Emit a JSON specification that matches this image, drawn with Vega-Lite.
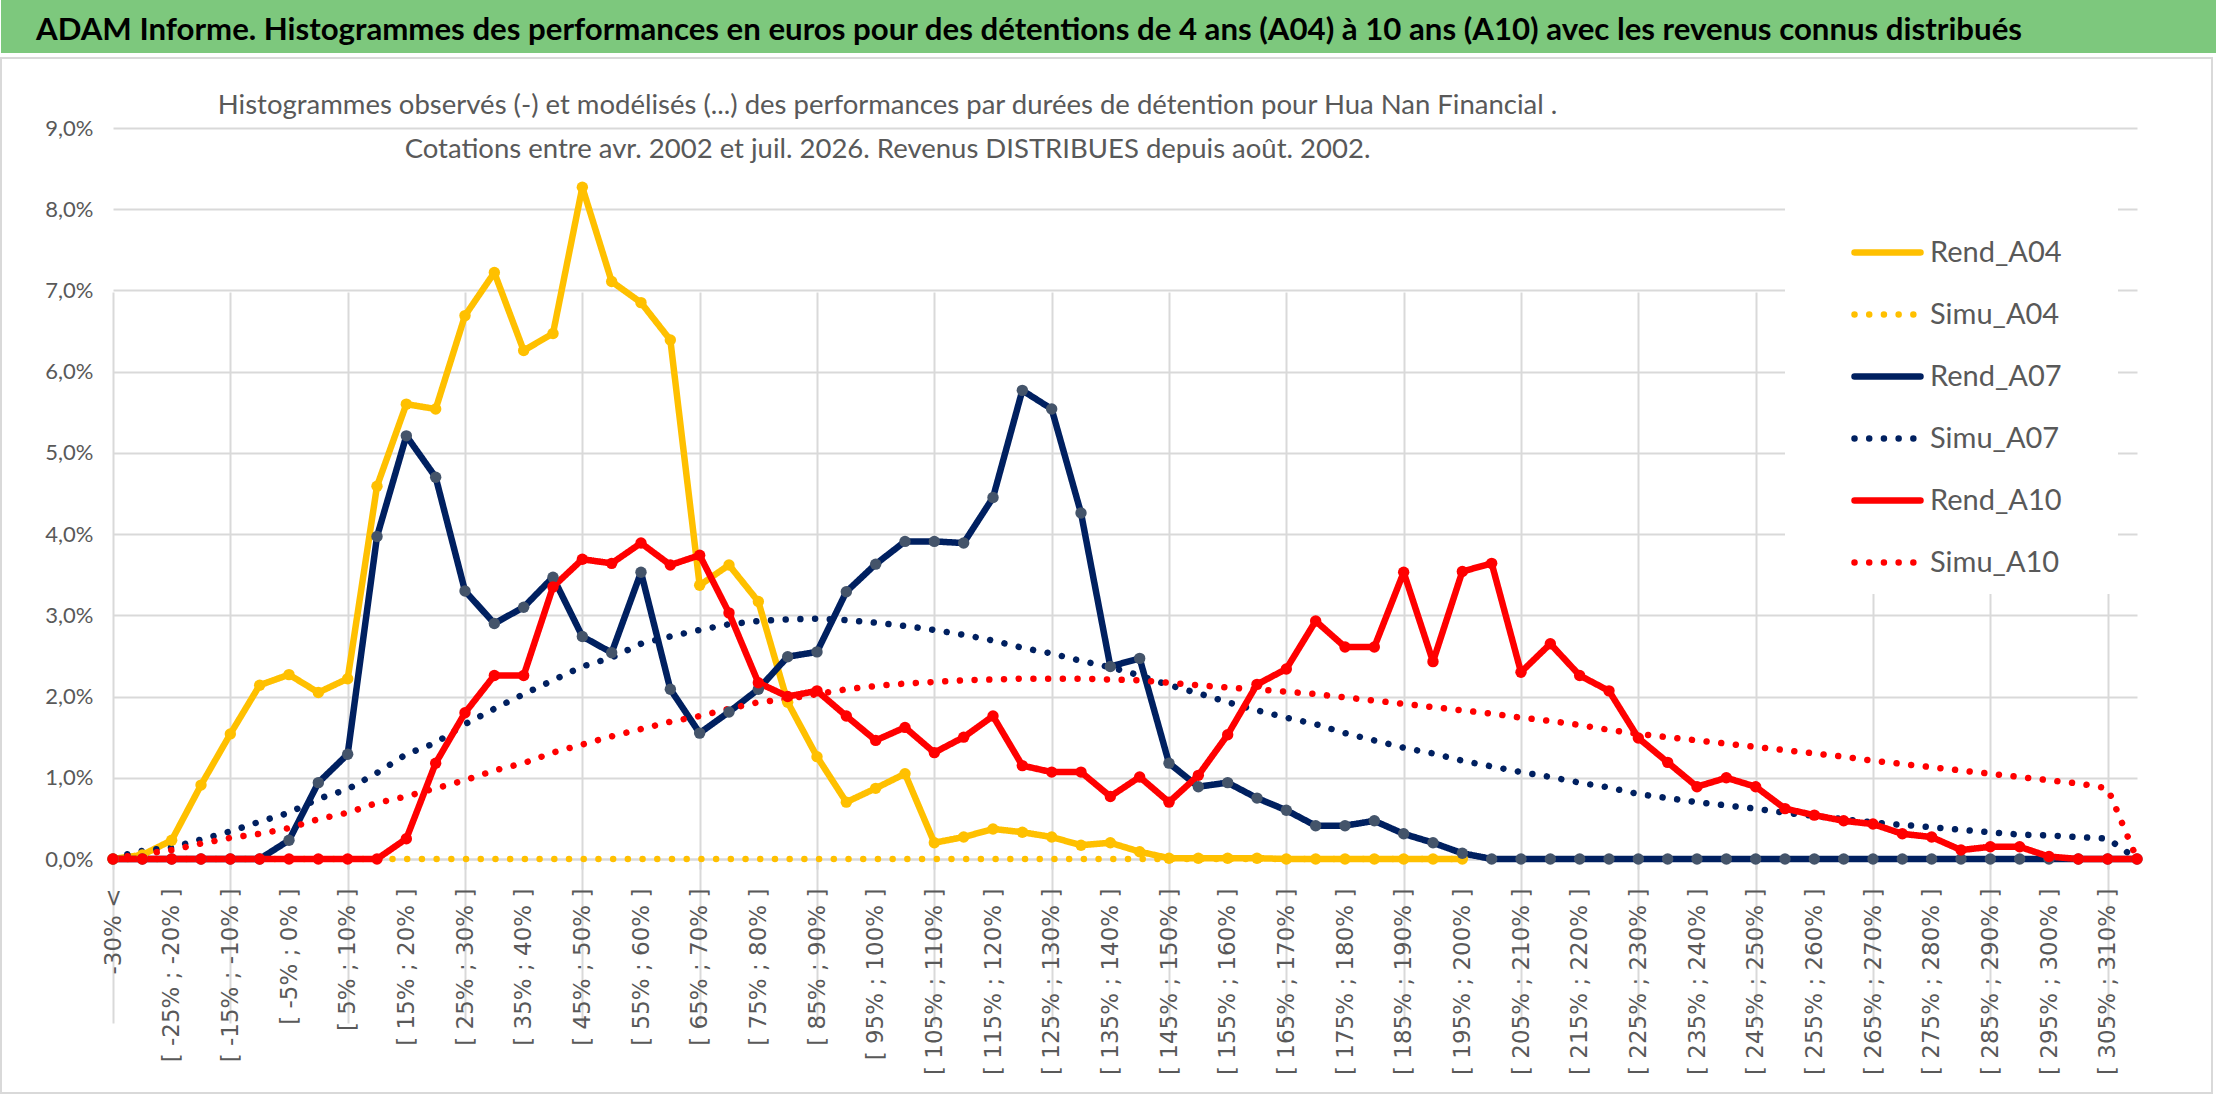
{
  "$schema": "https://vega.github.io/schema/vega-lite/v6.json",
  "padding": 0,
  "spacing": 4,
  "background": "white",
  "config": {"font": "Lato"},
  "vconcat": [
    {
      "width": 2216,
      "height": 53,
      "view": {"fill": "#7DC87D", "stroke": null},
      "data": {"values": []},
      "mark": "rect",
      "title": {
        "text": "ADAM Informe. Histogrammes des performances en euros pour des détentions de 4 ans (A04) à 10 ans (A10) avec les revenus connus distribués",
        "anchor": "start",
        "frame": "group",
        "dx": 35,
        "offset": -46,
        "font": "Lato",
        "fontWeight": "bold",
        "fontSize": 31.2,
        "color": "#000000"
      }
    },
    {
      "width": 2211,
      "height": 1035,
      "view": {"stroke": "#D9D9D9", "strokeWidth": 2},
      "title": {
        "text": [
          "Histogrammes observés (-) et modélisés (...) des performances par durées de détention pour Hua Nan Financial .",
          "Cotations entre avr. 2002 et juil. 2026. Revenus DISTRIBUES depuis août. 2002."
        ],
        "anchor": "middle",
        "frame": "group",
        "dx": -219,
        "offset": -105,
        "font": "Lato",
        "fontSize": 27.5,
        "fontWeight": "normal",
        "lineHeight": 44,
        "color": "#595959"
      },
      "data": {
        "values": [
          {"classe": "-30% <", "Rend_A04": 0, "Simu_A04": 0, "Rend_A07": 0, "Simu_A07": 0.02, "Rend_A10": 0, "Simu_A10": 0.01},
          {"classe": "[ -30% ; -25% ]", "Rend_A04": 0.05, "Simu_A04": 0, "Rend_A07": 0, "Simu_A07": 0.10, "Rend_A10": 0, "Simu_A10": 0.06},
          {"classe": "[ -25% ; -20% ]", "Rend_A04": 0.23, "Simu_A04": 0, "Rend_A07": 0, "Simu_A07": 0.14, "Rend_A10": 0, "Simu_A10": 0.11},
          {"classe": "[ -20% ; -15% ]", "Rend_A04": 0.91, "Simu_A04": 0, "Rend_A07": 0, "Simu_A07": 0.24, "Rend_A10": 0, "Simu_A10": 0.19},
          {"classe": "[ -15% ; -10% ]", "Rend_A04": 1.54, "Simu_A04": 0, "Rend_A07": 0, "Simu_A07": 0.34, "Rend_A10": 0, "Simu_A10": 0.26},
          {"classe": "[ -10% ; -5% ]", "Rend_A04": 2.14, "Simu_A04": 0, "Rend_A07": 0, "Simu_A07": 0.46, "Rend_A10": 0, "Simu_A10": 0.31},
          {"classe": "[ -5% ; 0% ]", "Rend_A04": 2.27, "Simu_A04": 0, "Rend_A07": 0.23, "Simu_A07": 0.57, "Rend_A10": 0, "Simu_A10": 0.38},
          {"classe": "[ 0% ; 5% ]", "Rend_A04": 2.05, "Simu_A04": 0, "Rend_A07": 0.94, "Simu_A07": 0.74, "Rend_A10": 0, "Simu_A10": 0.49},
          {"classe": "[ 5% ; 10% ]", "Rend_A04": 2.22, "Simu_A04": 0, "Rend_A07": 1.29, "Simu_A07": 0.86, "Rend_A10": 0, "Simu_A10": 0.57},
          {"classe": "[ 10% ; 15% ]", "Rend_A04": 4.59, "Simu_A04": 0, "Rend_A07": 3.97, "Simu_A07": 1.06, "Rend_A10": 0, "Simu_A10": 0.69},
          {"classe": "[ 15% ; 20% ]", "Rend_A04": 5.60, "Simu_A04": 0, "Rend_A07": 5.21, "Simu_A07": 1.29, "Rend_A10": 0.25, "Simu_A10": 0.77},
          {"classe": "[ 20% ; 25% ]", "Rend_A04": 5.54, "Simu_A04": 0, "Rend_A07": 4.70, "Simu_A07": 1.43, "Rend_A10": 1.18, "Simu_A10": 0.87},
          {"classe": "[ 25% ; 30% ]", "Rend_A04": 6.69, "Simu_A04": 0, "Rend_A07": 3.30, "Simu_A07": 1.66, "Rend_A10": 1.80, "Simu_A10": 0.97},
          {"classe": "[ 30% ; 35% ]", "Rend_A04": 7.22, "Simu_A04": 0, "Rend_A07": 2.90, "Simu_A07": 1.85, "Rend_A10": 2.26, "Simu_A10": 1.09},
          {"classe": "[ 35% ; 40% ]", "Rend_A04": 6.26, "Simu_A04": 0, "Rend_A07": 3.10, "Simu_A07": 2.03, "Rend_A10": 2.26, "Simu_A10": 1.18},
          {"classe": "[ 40% ; 45% ]", "Rend_A04": 6.47, "Simu_A04": 0, "Rend_A07": 3.47, "Simu_A07": 2.20, "Rend_A10": 3.35, "Simu_A10": 1.31},
          {"classe": "[ 45% ; 50% ]", "Rend_A04": 8.27, "Simu_A04": 0, "Rend_A07": 2.74, "Simu_A07": 2.37, "Rend_A10": 3.69, "Simu_A10": 1.41},
          {"classe": "[ 50% ; 55% ]", "Rend_A04": 7.11, "Simu_A04": 0, "Rend_A07": 2.54, "Simu_A07": 2.48, "Rend_A10": 3.64, "Simu_A10": 1.51},
          {"classe": "[ 55% ; 60% ]", "Rend_A04": 6.85, "Simu_A04": 0, "Rend_A07": 3.53, "Simu_A07": 2.65, "Rend_A10": 3.89, "Simu_A10": 1.60},
          {"classe": "[ 60% ; 65% ]", "Rend_A04": 6.39, "Simu_A04": 0, "Rend_A07": 2.09, "Simu_A07": 2.74, "Rend_A10": 3.62, "Simu_A10": 1.69},
          {"classe": "[ 65% ; 70% ]", "Rend_A04": 3.37, "Simu_A04": 0, "Rend_A07": 1.55, "Simu_A07": 2.82, "Rend_A10": 3.74, "Simu_A10": 1.76},
          {"classe": "[ 70% ; 75% ]", "Rend_A04": 3.62, "Simu_A04": 0, "Rend_A07": 1.81, "Simu_A07": 2.89, "Rend_A10": 3.03, "Simu_A10": 1.85},
          {"classe": "[ 75% ; 80% ]", "Rend_A04": 3.17, "Simu_A04": 0, "Rend_A07": 2.09, "Simu_A07": 2.93, "Rend_A10": 2.17, "Simu_A10": 1.93},
          {"classe": "[ 80% ; 85% ]", "Rend_A04": 1.93, "Simu_A04": 0, "Rend_A07": 2.49, "Simu_A07": 2.95, "Rend_A10": 2.00, "Simu_A10": 1.97},
          {"classe": "[ 85% ; 90% ]", "Rend_A04": 1.26, "Simu_A04": 0, "Rend_A07": 2.55, "Simu_A07": 2.96, "Rend_A10": 2.07, "Simu_A10": 2.03},
          {"classe": "[ 90% ; 95% ]", "Rend_A04": 0.70, "Simu_A04": 0, "Rend_A07": 3.29, "Simu_A07": 2.94, "Rend_A10": 1.76, "Simu_A10": 2.09},
          {"classe": "[ 95% ; 100% ]", "Rend_A04": 0.87, "Simu_A04": 0, "Rend_A07": 3.63, "Simu_A07": 2.91, "Rend_A10": 1.46, "Simu_A10": 2.13},
          {"classe": "[ 100% ; 105% ]", "Rend_A04": 1.05, "Simu_A04": 0, "Rend_A07": 3.91, "Simu_A07": 2.87, "Rend_A10": 1.62, "Simu_A10": 2.16},
          {"classe": "[ 105% ; 110% ]", "Rend_A04": 0.20, "Simu_A04": 0, "Rend_A07": 3.91, "Simu_A07": 2.82, "Rend_A10": 1.31, "Simu_A10": 2.18},
          {"classe": "[ 110% ; 115% ]", "Rend_A04": 0.27, "Simu_A04": 0, "Rend_A07": 3.89, "Simu_A07": 2.76, "Rend_A10": 1.50, "Simu_A10": 2.20},
          {"classe": "[ 115% ; 120% ]", "Rend_A04": 0.37, "Simu_A04": 0, "Rend_A07": 4.45, "Simu_A07": 2.69, "Rend_A10": 1.76, "Simu_A10": 2.21},
          {"classe": "[ 120% ; 125% ]", "Rend_A04": 0.33, "Simu_A04": 0, "Rend_A07": 5.77, "Simu_A07": 2.60, "Rend_A10": 1.15, "Simu_A10": 2.22},
          {"classe": "[ 125% ; 130% ]", "Rend_A04": 0.27, "Simu_A04": 0, "Rend_A07": 5.54, "Simu_A07": 2.53, "Rend_A10": 1.07, "Simu_A10": 2.22},
          {"classe": "[ 130% ; 135% ]", "Rend_A04": 0.17, "Simu_A04": 0, "Rend_A07": 4.26, "Simu_A07": 2.44, "Rend_A10": 1.07, "Simu_A10": 2.22},
          {"classe": "[ 135% ; 140% ]", "Rend_A04": 0.20, "Simu_A04": 0, "Rend_A07": 2.37, "Simu_A07": 2.36, "Rend_A10": 0.77, "Simu_A10": 2.21},
          {"classe": "[ 140% ; 145% ]", "Rend_A04": 0.09, "Simu_A04": 0, "Rend_A07": 2.47, "Simu_A07": 2.26, "Rend_A10": 1.01, "Simu_A10": 2.20},
          {"classe": "[ 145% ; 150% ]", "Rend_A04": 0.01, "Simu_A04": 0, "Rend_A07": 1.18, "Simu_A07": 2.14, "Rend_A10": 0.70, "Simu_A10": 2.17},
          {"classe": "[ 150% ; 155% ]", "Rend_A04": 0.01, "Simu_A04": 0, "Rend_A07": 0.89, "Simu_A07": 2.04, "Rend_A10": 1.03, "Simu_A10": 2.14},
          {"classe": "[ 155% ; 160% ]", "Rend_A04": 0.01, "Simu_A04": 0, "Rend_A07": 0.94, "Simu_A07": 1.93, "Rend_A10": 1.53, "Simu_A10": 2.11},
          {"classe": "[ 160% ; 165% ]", "Rend_A04": 0.01, "Simu_A04": 0, "Rend_A07": 0.75, "Simu_A07": 1.83, "Rend_A10": 2.15, "Simu_A10": 2.09},
          {"classe": "[ 165% ; 170% ]", "Rend_A04": 0, "Simu_A04": 0, "Rend_A07": 0.60, "Simu_A07": 1.74, "Rend_A10": 2.34, "Simu_A10": 2.06},
          {"classe": "[ 170% ; 175% ]", "Rend_A04": 0, "Simu_A04": 0, "Rend_A07": 0.41, "Simu_A07": 1.66, "Rend_A10": 2.93, "Simu_A10": 2.03},
          {"classe": "[ 175% ; 180% ]", "Rend_A04": 0, "Simu_A04": 0, "Rend_A07": 0.41, "Simu_A07": 1.55, "Rend_A10": 2.61, "Simu_A10": 1.99},
          {"classe": "[ 180% ; 185% ]", "Rend_A04": 0, "Simu_A04": 0, "Rend_A07": 0.47, "Simu_A07": 1.46, "Rend_A10": 2.61, "Simu_A10": 1.95},
          {"classe": "[ 185% ; 190% ]", "Rend_A04": 0, "Simu_A04": 0, "Rend_A07": 0.31, "Simu_A07": 1.37, "Rend_A10": 3.53, "Simu_A10": 1.91},
          {"classe": "[ 190% ; 195% ]", "Rend_A04": 0, "Simu_A04": 0, "Rend_A07": 0.20, "Simu_A07": 1.30, "Rend_A10": 2.43, "Simu_A10": 1.87},
          {"classe": "[ 195% ; 200% ]", "Rend_A04": 0, "Simu_A04": 0, "Rend_A07": 0.07, "Simu_A07": 1.21, "Rend_A10": 3.54, "Simu_A10": 1.83},
          {"classe": "[ 200% ; 205% ]", "Rend_A07": 0, "Simu_A07": 1.14, "Rend_A10": 3.64, "Simu_A10": 1.79},
          {"classe": "[ 205% ; 210% ]", "Rend_A07": 0, "Simu_A07": 1.07, "Rend_A10": 2.30, "Simu_A10": 1.74},
          {"classe": "[ 210% ; 215% ]", "Rend_A07": 0, "Simu_A07": 1.01, "Rend_A10": 2.65, "Simu_A10": 1.70},
          {"classe": "[ 215% ; 220% ]", "Rend_A07": 0, "Simu_A07": 0.94, "Rend_A10": 2.26, "Simu_A10": 1.65},
          {"classe": "[ 220% ; 225% ]", "Rend_A07": 0, "Simu_A07": 0.88, "Rend_A10": 2.07, "Simu_A10": 1.59},
          {"classe": "[ 225% ; 230% ]", "Rend_A07": 0, "Simu_A07": 0.80, "Rend_A10": 1.49, "Simu_A10": 1.54},
          {"classe": "[ 230% ; 235% ]", "Rend_A07": 0, "Simu_A07": 0.75, "Rend_A10": 1.19, "Simu_A10": 1.50},
          {"classe": "[ 235% ; 240% ]", "Rend_A07": 0, "Simu_A07": 0.70, "Rend_A10": 0.89, "Simu_A10": 1.46},
          {"classe": "[ 240% ; 245% ]", "Rend_A07": 0, "Simu_A07": 0.66, "Rend_A10": 1.00, "Simu_A10": 1.42},
          {"classe": "[ 245% ; 250% ]", "Rend_A07": 0, "Simu_A07": 0.62, "Rend_A10": 0.89, "Simu_A10": 1.38},
          {"classe": "[ 250% ; 255% ]", "Rend_A07": 0, "Simu_A07": 0.57, "Rend_A10": 0.62, "Simu_A10": 1.34},
          {"classe": "[ 255% ; 260% ]", "Rend_A07": 0, "Simu_A07": 0.53, "Rend_A10": 0.54, "Simu_A10": 1.30},
          {"classe": "[ 260% ; 265% ]", "Rend_A07": 0, "Simu_A07": 0.49, "Rend_A10": 0.47, "Simu_A10": 1.26},
          {"classe": "[ 265% ; 270% ]", "Rend_A07": 0, "Simu_A07": 0.45, "Rend_A10": 0.43, "Simu_A10": 1.21},
          {"classe": "[ 270% ; 275% ]", "Rend_A07": 0, "Simu_A07": 0.42, "Rend_A10": 0.31, "Simu_A10": 1.17},
          {"classe": "[ 275% ; 280% ]", "Rend_A07": 0, "Simu_A07": 0.39, "Rend_A10": 0.27, "Simu_A10": 1.13},
          {"classe": "[ 280% ; 285% ]", "Rend_A07": 0, "Simu_A07": 0.36, "Rend_A10": 0.11, "Simu_A10": 1.09},
          {"classe": "[ 285% ; 290% ]", "Rend_A07": 0, "Simu_A07": 0.33, "Rend_A10": 0.15, "Simu_A10": 1.05},
          {"classe": "[ 290% ; 295% ]", "Rend_A07": 0, "Simu_A07": 0.30, "Rend_A10": 0.15, "Simu_A10": 1.01},
          {"classe": "[ 295% ; 300% ]", "Rend_A07": 0, "Simu_A07": 0.29, "Rend_A10": 0.03, "Simu_A10": 0.97},
          {"classe": "[ 300% ; 305% ]", "Rend_A07": 0, "Simu_A07": 0.27, "Rend_A10": 0, "Simu_A10": 0.93},
          {"classe": "[ 305% ; 310% ]", "Rend_A07": 0, "Simu_A07": 0.25, "Rend_A10": 0, "Simu_A10": 0.87},
          {"classe": "> 310%", "Rend_A07": 0, "Simu_A07": 0, "Rend_A10": 0, "Simu_A10": 0}
        ]
      },
      "transform": [
        {"fold": ["Rend_A04", "Simu_A04", "Rend_A07", "Simu_A07", "Rend_A10", "Simu_A10"], "as": ["serie", "valeur"]}
      ],
      "encoding": {
        "x": {
          "field": "classe",
          "type": "ordinal",
          "sort": null,
          "scale": {"type": "point", "range": [112, 2136], "padding": 0},
          "axis": {
            "title": null,
            "values": ["-30% <", "[ -25% ; -20% ]", "[ -15% ; -10% ]", "[ -5% ; 0% ]", "[ 5% ; 10% ]", "[ 15% ; 20% ]", "[ 25% ; 30% ]", "[ 35% ; 40% ]", "[ 45% ; 50% ]", "[ 55% ; 60% ]", "[ 65% ; 70% ]", "[ 75% ; 80% ]", "[ 85% ; 90% ]", "[ 95% ; 100% ]", "[ 105% ; 110% ]", "[ 115% ; 120% ]", "[ 125% ; 130% ]", "[ 135% ; 140% ]", "[ 145% ; 150% ]", "[ 155% ; 160% ]", "[ 165% ; 170% ]", "[ 175% ; 180% ]", "[ 185% ; 190% ]", "[ 195% ; 200% ]", "[ 205% ; 210% ]", "[ 215% ; 220% ]", "[ 225% ; 230% ]", "[ 235% ; 240% ]", "[ 245% ; 250% ]", "[ 255% ; 260% ]", "[ 265% ; 270% ]", "[ 275% ; 280% ]", "[ 285% ; 290% ]", "[ 295% ; 300% ]", "[ 305% ; 310% ]"],
            "offset": -234,
            "labelAngle": -90,
            "labelFont": "DejaVu Sans",
            "labelFontSize": 23,
            "labelColor": "#595959",
            "labelPadding": 19,
            "labelLimit": 400,
            "labelOverlap": false,
            "domainColor": "#D9D9D9",
            "domainWidth": 2,
            "tickSize": 10,
            "tickWidth": 2,
            "tickColor": "#D9D9D9",
            "tickOpacity": {"condition": {"test": "round(datum.index * 34) % 2 == 1", "value": 0}, "value": 1},
            "grid": true,
            "gridColor": "#D9D9D9",
            "gridWidth": 2,
            "gridOpacity": {"condition": {"test": "round(datum.index * 34) % 2 == 1", "value": 0}, "value": 1}
          }
        },
        "y": {
          "field": "valeur",
          "type": "quantitative",
          "scale": {"domain": [0, 9], "range": [801, 70], "nice": false},
          "axis": {
            "title": null,
            "values": [0, 1, 2, 3, 4, 5, 6, 7, 8, 9],
            "labelExpr": "replace(format(datum.value, '.1f'), '.', ',') + '%'",
            "offset": -112,
            "domain": false,
            "ticks": false,
            "labelPadding": 20,
            "labelFont": "Lato",
            "labelFontSize": 22,
            "labelColor": "#595959",
            "gridColor": "#D9D9D9",
            "gridWidth": 2
          }
        }
      },
      "layer": [
        {
          "mark": {"type": "line", "strokeWidth": 6.5, "strokeCap": "round", "strokeJoin": "round"},
          "encoding": {
            "color": {
              "field": "serie",
              "type": "nominal",
              "scale": {
                "domain": ["Rend_A04", "Simu_A04", "Rend_A07", "Simu_A07", "Rend_A10", "Simu_A10"],
                "range": ["#FFC000", "#FFC000", "#002060", "#002060", "#FF0000", "#FF0000"]
              },
              "legend": {
                "title": " ",
                "titleOrient": "right",
                "titlePadding": 40,
                "titleFontSize": 10,
                "orient": "none",
                "legendX": 1784,
                "legendY": 200,
                "fillColor": "white",
                "padding": 16,
                "symbolOffset": 50,
                "symbolType": "stroke",
                "symbolSize": 4356,
                "symbolStrokeWidth": 6.5,
                "labelFont": "Lato",
                "labelFontSize": 29,
                "labelColor": "#595959",
                "labelOffset": 6,
                "labelLimit": 300,
                "rowPadding": 10,
                "encode": {"symbols": {"update": {"strokeCap": {"value": "round"}}}}
              }
            },
            "strokeDash": {
              "field": "serie",
              "type": "nominal",
              "scale": {
                "domain": ["Rend_A04", "Simu_A04", "Rend_A07", "Simu_A07", "Rend_A10", "Simu_A10"],
                "range": [[1, 0], [0.01, 14.7], [1, 0], [0.01, 14.7], [1, 0], [0.01, 14.7]]
              }
            }
          }
        },
        {
          "transform": [{"filter": "indexof(datum.serie, 'Rend') == 0"}],
          "mark": {"type": "point", "filled": true, "opacity": 1, "size": 130},
          "encoding": {
            "fill": {
              "field": "serie",
              "type": "nominal",
              "scale": {"domain": ["Rend_A04", "Rend_A07", "Rend_A10"], "range": ["#FFC000", "#44546A", "#FF0000"]},
              "legend": null
            }
          }
        }
      ]
    }
  ]
}
